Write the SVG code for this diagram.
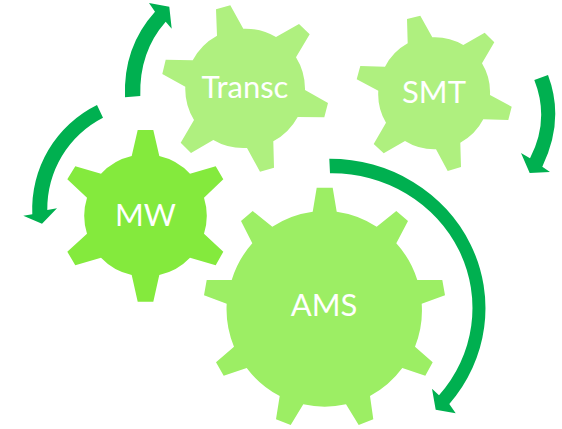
<svg xmlns="http://www.w3.org/2000/svg" width="562" height="429" viewBox="0 0 562 429">
<style>
.label{font-family:"Lato","Open Sans","Liberation Sans",sans-serif;font-size:31px;fill:#fff;text-anchor:middle}
.arrow{fill:#00B050}
.light{fill:#AFF07F}
.mid{fill:#9CEE64}
.strong{fill:#84EA3D}
</style>
<g id="connectors">
<path class="arrow" d="M125,97.3Q123,47 155,11.7L149,3L169.3,6.7L171.7,28.7L165.7,21.7Q139,52 140.3,96Z"/>
<path class="arrow" d="M97,105A116,116 0 0 0 32.3,214.3L23.3,215.7L42,223.7L57,208.3L47.3,210A102,102 0 0 1 103,117.7Z"/>
<path class="arrow" d="M548,75Q565,120 542.3,166.7L550,172L529.7,173L521,153L530,158.3Q550,120 534.3,80Z"/>
<path class="arrow" d="M329.3,158.7A155.7,149.5 0 0 1 449.3,404L455.7,413.3L435.7,409.7L432,388.7L439,395.3A140.3,134.7 0 0 0 330,173.3Z"/>
</g>
<g id="node-transc">
<path class="light" d="M217,35.7L216,9.3L230.3,5.3L243.3,28.7A60,60 0 0 1 276,37L299,24L309.7,34.3L296,57.3A60,60 0 0 1 305,90L328,103L324.3,117.3L297.7,117A60,60 0 0 1 273.3,141.3L274,167.7L260,171.7L247,148A60,60 0 0 1 213.3,140L191,153L180.7,142.7L194,120A60,60 0 0 1 185.3,86.7L162.3,74L165.7,59.7L192.7,60.3A60,60 0 0 1 217,35.7Z"/>
<text class="label" x="245" y="98">Transc</text>
</g>
<g id="node-smt">
<path class="light" d="M407.7,43.3L407,19L420.3,15.7L432.3,37.3A56,56 0 0 1 463.3,45L484.7,32.7L494.3,42.3L482,63.3A56,56 0 0 1 490,95L511.7,106.7L508.3,120L483.3,119.3A56,56 0 0 1 460.3,142.7L461,167L447.7,171L436,149.3A56,56 0 0 1 405,141L383.7,153.3L373.7,144L386,122.7A56,56 0 0 1 378.3,90.7L356.7,79.3L360.3,66L385,66.7A56,56 0 0 1 407.7,43.3Z"/>
<text class="label" x="434" y="103">SMT</text>
</g>
<g id="node-mw">
<path class="strong" d="M131.7,156L137.7,130L153.3,130L159.3,156A60.5,60.5 0 0 1 190,173.7L215.7,166.3L223.3,179.3L204,197.7A60.5,60.5 0 0 1 204,233.7L223.3,251.7L215.7,265.3L190,257.7A60.5,60.5 0 0 1 159.3,275L153.3,301.7L137.7,301.7L131.7,275A60.5,60.5 0 0 1 101,257.7L75.3,265.3L67.3,251.7L87,233.7A60.5,60.5 0 0 1 87,197.7L67.3,179.3L75.3,166.3L101,173.7A60.5,60.5 0 0 1 131.7,156Z"/>
<text class="label" x="145.5" y="226">MW</text>
</g>
<g id="node-ams">
<path class="mid" d="M312.7,211.7L316.7,187.7L332.7,187.7L336.7,211.7A97.5,97.5 0 0 1 376.7,226.7L396.3,211L408,221L396.3,243.3A97.5,97.5 0 0 1 417.3,280L442.3,280L445,295.3L421.7,303.7A97.5,97.5 0 0 1 415,346.7L432.7,362.3L425.3,375.7L402.3,368A97.5,97.5 0 0 1 370,396L373.3,419.3L358.7,425L346,404.3A97.5,97.5 0 0 1 303.3,404.3L290.7,425L276,419.3L279.7,396A97.5,97.5 0 0 1 246.7,368L223.7,375.7L216,362.3L234,346.7A97.5,97.5 0 0 1 226.7,303.7L204,295.3L206.7,280L231.7,280A97.5,97.5 0 0 1 252.3,243.3L241,221L252.7,211L272.3,226.7A97.5,97.5 0 0 1 312.7,211.7Z"/>
<text class="label" x="324" y="316">AMS</text>
</g>
</svg>
